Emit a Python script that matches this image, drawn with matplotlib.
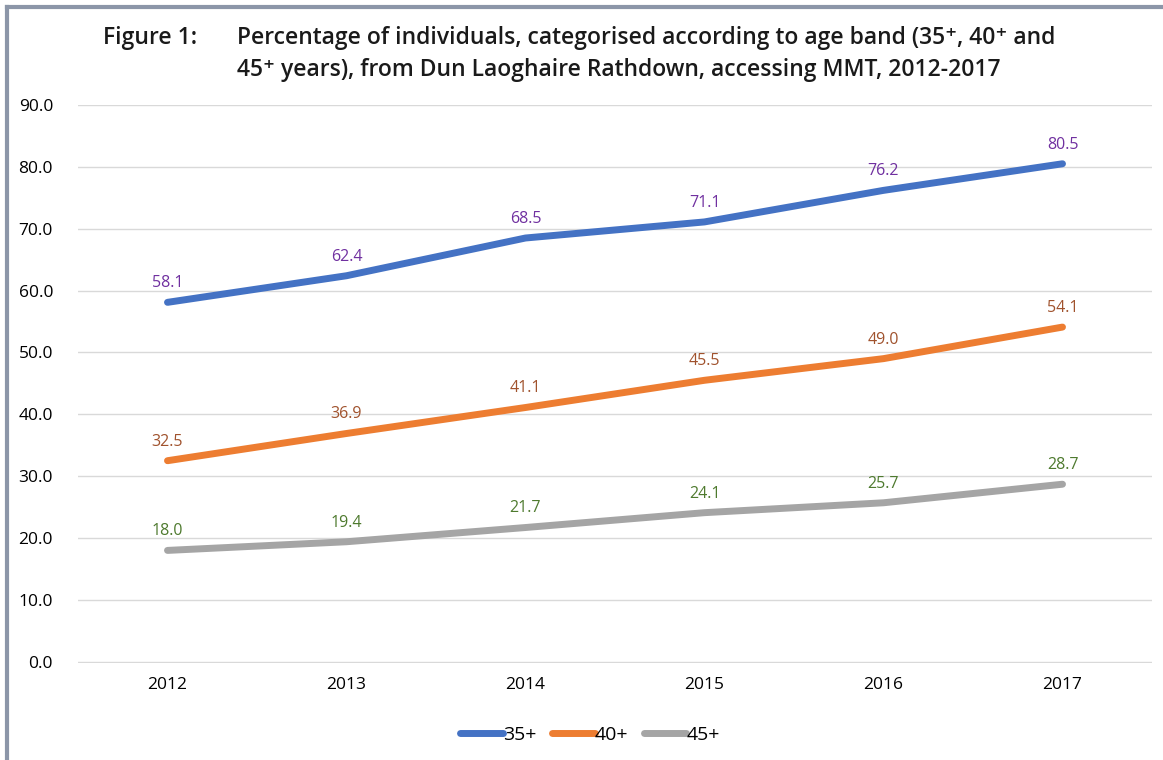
import matplotlib.pyplot as plt
from matplotlib.lines import Line2D

years = ['2012', '2013', '2014', '2015', '2016', '2017']
age_35 = [58.1, 62.4, 68.5, 71.1, 76.2, 80.5]
age_40 = [32.5, 36.9, 41.1, 45.5, 49.0, 54.1]
age_45 = [18.0, 19.4, 21.7, 24.1, 25.7, 28.7]
series_names = ['35+', '40+', '45+']
yticks = [0, 10, 20, 30, 40, 50, 60, 70, 80, 90]

line_colors = ['#4472C4', '#ED7D31', '#A5A5A5']
label_colors = ['#7030A0', '#A0522D', '#4E7A2E']

plt.rcParams['font.family'] = ['Open Sans', 'DejaVu Sans']

fig = plt.figure(figsize=(11.63, 7.6), dpi=100)
ax = fig.add_axes([78 / 1163, 1 - 663 / 760, 1074 / 1163, 558 / 760])

x = list(range(len(years)))
for vals, lc, tc in zip([age_35, age_40, age_45], line_colors, label_colors):
    ax.plot(x, vals, color=lc, linewidth=5, solid_capstyle='round')
    for xi, v in zip(x, vals):
        ax.annotate(f'{v:.1f}', (xi, v), xytext=(0, 8), textcoords='offset points',
                    ha='center', va='bottom', color=tc, fontsize=11.5)

ax.set_xlim(-0.5, len(years) - 0.5)
ax.set_ylim(-0.2, 90)
ax.set_yticks(yticks)
ax.set_yticklabels([f'{t:.1f}' for t in yticks], fontsize=12.5)
ax.set_xticks(x)
ax.set_xticklabels(years, fontsize=12.5)
ax.tick_params(length=0, pad=10)
ax.tick_params(axis='y', pad=18)
ax.grid(axis='y', color='#D9D9D9', linewidth=1)
ax.set_axisbelow(True)
for s in ax.spines.values():
    s.set_visible(False)

handles = [Line2D([0], [0], color=c, linewidth=5, solid_capstyle='round') for c in line_colors]
fig.legend(handles, series_names, loc='center', bbox_to_anchor=(590 / 1163, 1 - 735 / 760),
           ncol=3, frameon=False, fontsize=14, handlelength=2.2, handletextpad=0.0,
           columnspacing=0.8)

# title
title_kw = dict(fontsize=16.5, fontweight='semibold', color='#1A1A1A', va='center')
fig.text(103 / 1163, 1 - 38 / 760, 'Figure 1:', **title_kw)
fig.text(237 / 1163, 1 - 38 / 760,
         'Percentage of individuals, categorised according to age band (35\u207a, 40\u207a and', **title_kw)
fig.text(237 / 1163, 1 - 70 / 760,
         '45\u207a years), from Dun Laoghaire Rathdown, accessing MMT, 2012-2017', **title_kw)

# frame lines at top and left
fig.add_artist(Line2D([7 / 1163, 7 / 1163], [0, 1 - 7 / 760], color='#8C96A8', linewidth=3,
                      transform=fig.transFigure))
fig.add_artist(Line2D([7 / 1163, 1], [1 - 7 / 760, 1 - 7 / 760], color='#8C96A8', linewidth=3,
                      transform=fig.transFigure))

plt.savefig('out.png', dpi=100)
